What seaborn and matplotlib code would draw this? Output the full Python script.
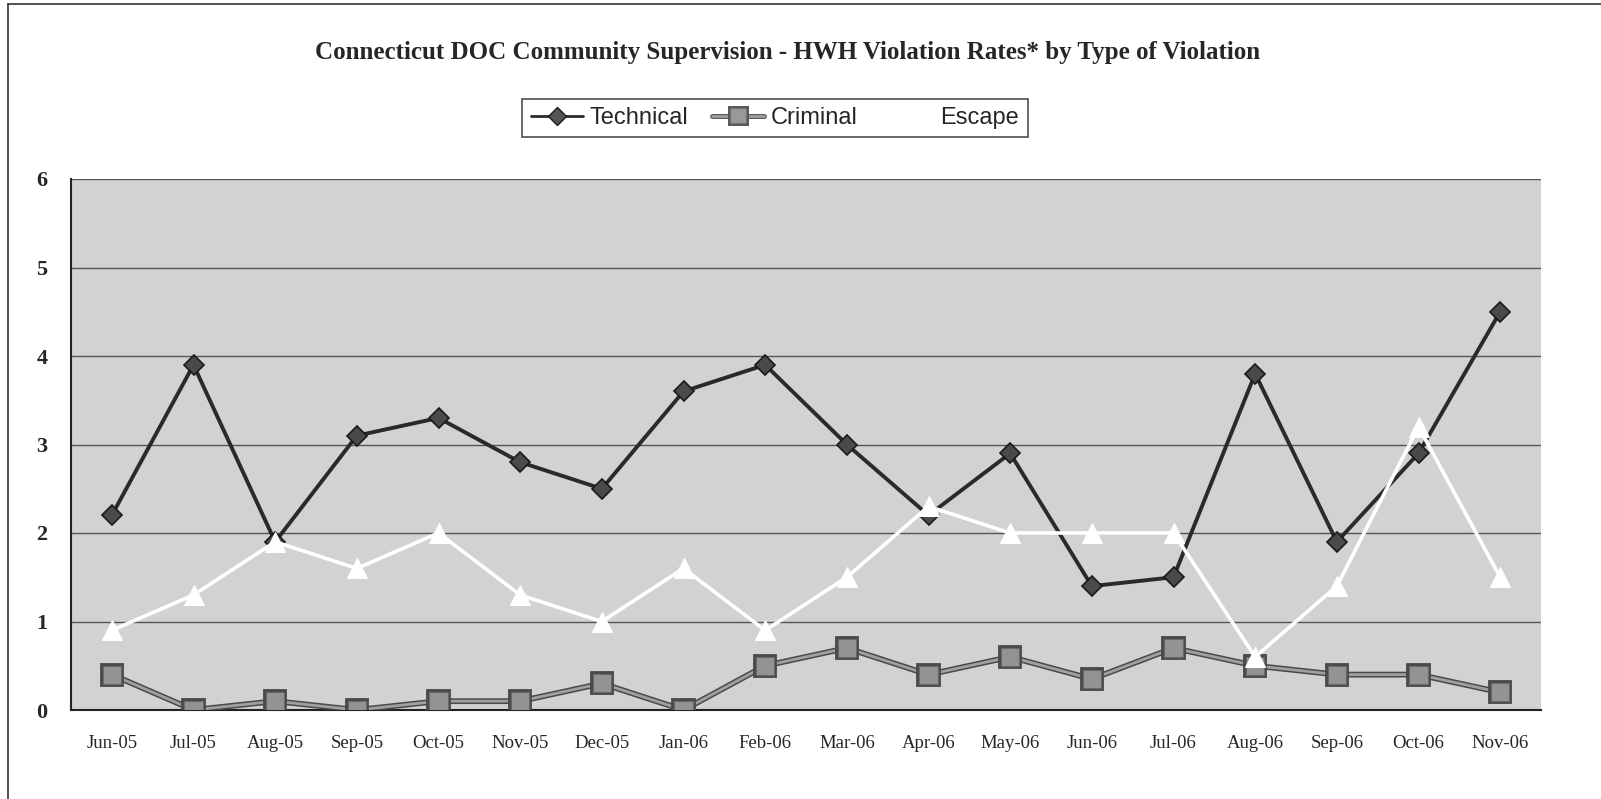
import matplotlib
matplotlib.use("Agg")
import matplotlib.pyplot as plt
import matplotlib.patheffects as pe
from matplotlib.lines import Line2D
import seaborn as sns
import pandas as pd
import numpy as np

months = ["Jun-05", "Jul-05", "Aug-05", "Sep-05", "Oct-05", "Nov-05", "Dec-05", "Jan-06",
          "Feb-06", "Mar-06", "Apr-06", "May-06", "Jun-06", "Jul-06", "Aug-06", "Sep-06",
          "Oct-06", "Nov-06"]
technical = [2.2, 3.9, 1.9, 3.1, 3.3, 2.8, 2.5, 3.6, 3.9, 3.0, 2.2, 2.9, 1.4, 1.5, 3.8, 1.9, 2.9, 4.5]
criminal = [0.4, 0.0, 0.1, 0.0, 0.1, 0.1, 0.3, 0.0, 0.5, 0.7, 0.4, 0.6, 0.35, 0.7, 0.5, 0.4, 0.4, 0.2]
escape = [0.9, 1.3, 1.9, 1.6, 2.0, 1.3, 1.0, 1.6, 0.9, 1.5, 2.3, 2.0, 2.0, 2.0, 0.6, 1.4, 3.2, 1.5]
yticks = [0, 1, 2, 3, 4, 5, 6]

sns.set_style("white")
plt.rcParams['font.family'] = ['Liberation Serif', 'DejaVu Serif']

fig = plt.figure(figsize=(16.01, 7.99), dpi=100)
ax = fig.add_axes([71/1601, 1 - 710/799, (1541 - 71)/1601, (710 - 179)/799])
ax.set_facecolor('#d2d2d2')

x = np.arange(len(months))
df = pd.DataFrame({"x": x, "Technical": technical, "Criminal": criminal, "Escape": escape})

sns.lineplot(data=df, x="x", y="Criminal", ax=ax, color='#a0a0a0', lw=2.0,
             marker='s', markersize=13, markerfacecolor='#939393', markeredgecolor='#6a6a6a',
             markeredgewidth=0.8, zorder=3,
             path_effects=[pe.Stroke(linewidth=4.2, foreground='#4a4a4a'), pe.Normal()])
sns.lineplot(data=df, x="x", y="Technical", ax=ax, color='#2a2a2a', lw=2.8,
             marker='D', markersize=10, markerfacecolor='#4a4a4a', markeredgecolor='#1a1a1a',
             markeredgewidth=1.2, zorder=4)
sns.lineplot(data=df, x="x", y="Escape", ax=ax, color='white', lw=2.6,
             marker='^', markersize=15, markerfacecolor='white', markeredgecolor='white', zorder=5)

ax.set_xlim(-0.5, len(months) - 0.5)
ax.set_ylim(0, 6)
ax.set_yticks(yticks)
ax.set_yticklabels([str(v) for v in yticks], fontsize=16, fontweight='bold')
ax.set_xticks(x)
ax.set_xticklabels(months, fontsize=13.5)
ax.set_xticks(np.arange(-0.5, len(months), 1), minor=True)
ax.tick_params(axis='x', which='major', length=0, pad=18)
ax.tick_params(axis='x', which='minor', length=7, direction='out', color='#222', width=1.2)
ax.tick_params(axis='y', length=7, direction='out', color='#222', width=1.2, pad=10)
ax.set_xlabel("")
ax.set_ylabel("")
for yv in yticks[1:]:
    ax.axhline(yv, color='#555555', lw=1, zorder=1)
for s in ['top', 'right']:
    ax.spines[s].set_visible(False)
for s in ['left', 'bottom']:
    ax.spines[s].set_color('#222')
    ax.spines[s].set_linewidth(1.5)
ax.grid(False)

fig.text(788/1601, 1 - 53/799, "Connecticut DOC Community Supervision - HWH Violation Rates* by Type of Violation",
         ha='center', va='center', fontsize=18, fontweight='bold')

handles = [
    Line2D([], [], color='#2a2a2a', lw=2, marker='D', markersize=9, markerfacecolor='#555555', markeredgecolor='#1a1a1a'),
    Line2D([], [], color='#a0a0a0', lw=2, marker='s', markersize=11, markerfacecolor='#999999', markeredgecolor='#777777',
           path_effects=[pe.Stroke(linewidth=3.5, foreground='#505050'), pe.Normal()]),
    Line2D([], [], color='white', lw=2, marker='^', markersize=11, markerfacecolor='white', markeredgecolor='white'),
]
leg = fig.legend(handles, ["Technical", "Criminal", "Escape"], loc='center', ncol=3,
                 bbox_to_anchor=(775/1601, 1 - 118/799), frameon=True, fancybox=False,
                 edgecolor='#222', handlelength=2.2, handletextpad=0.3, columnspacing=1.0,
                 prop={'family': 'Liberation Sans', 'size': 17}, borderpad=0.35)
leg.get_frame().set_linewidth(1.2)

fig.add_artist(Line2D([8/1601, 8/1601], [0, 1 - 4/799], transform=fig.transFigure, color='#333', lw=1.2))
fig.add_artist(Line2D([8/1601, 1], [1 - 4/799, 1 - 4/799], transform=fig.transFigure, color='#333', lw=1.2))

fig.savefig("out.png", dpi=100)
